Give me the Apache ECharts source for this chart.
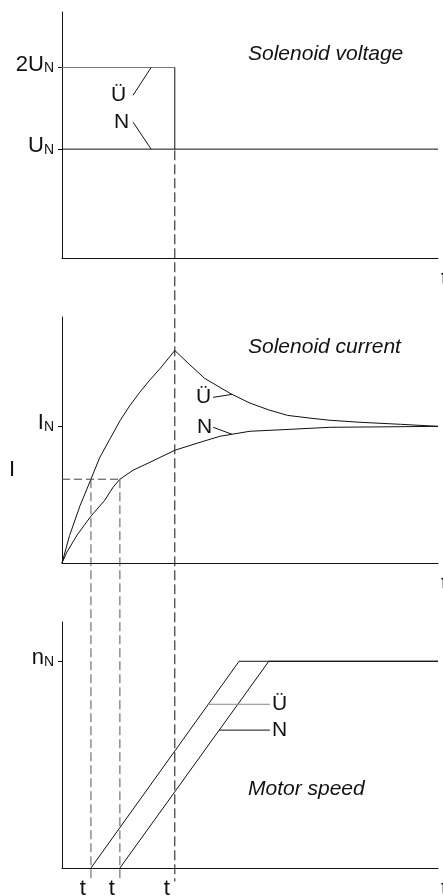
<!DOCTYPE html>
<html>
<head>
<meta charset="utf-8">
<title>Solenoid voltage, current and motor speed</title>
<script src="https://cdn.jsdelivr.net/npm/echarts@6.0.0/dist/echarts.min.js"></script>
<style>
  html, body { margin: 0; padding: 0; background: #fff; }
  #main { width: 443px; height: 896px; }
</style>
</head>
<body>
<div id="main"></div>
<script>
// time runs 0..100 (arbitrary units), switching instants t1, t2, t3
const tMarks = [7.7, 15.4, 30];
const tLabels = ['t', 't', 't'];

// solenoid voltage, U_N = 1
const voltOver = [[0, 1.75], [30, 1.75], [30, 1]];
const voltNominal = [[0, 1], [100, 1]];
const voltTicks = [1, 1.75];
const voltTickLabels = ['U', '2U'];

// solenoid current, I_N = 1
const curOver = [[0, 0], [2, 0.2], [4.8, 0.42], [7.7, 0.613], [10, 0.77], [12.8, 0.91], [15.4, 1.04],
  [18, 1.15], [20.7, 1.25], [23.4, 1.34], [26, 1.42], [30, 1.555], [34, 1.45], [38, 1.35], [42, 1.285],
  [45.2, 1.234], [50, 1.17], [55, 1.12], [60, 1.08], [66, 1.06], [71, 1.045], [79, 1.03], [90, 1.015], [100, 1]];
const curNominal = [[0, 0], [1.3, 0.08], [4, 0.204], [7.7, 0.343], [11.4, 0.46], [13.6, 0.555], [15.4, 0.613],
  [18.9, 0.679], [23.4, 0.737], [30, 0.825], [36.7, 0.883], [42, 0.927], [45.2, 0.942], [50, 0.964],
  [60.6, 0.978], [71.3, 0.993], [84.6, 0.996], [100, 1]];
const curLevel = 0.613;   // pick-up current I
const curTicks = [1];
const curTickLabels = ['I'];

// motor speed, n_N = 1
const speedOver = [[7.7, 0], [47.1, 1], [100, 1]];
const speedNominal = [[15.4, 0], [55, 1], [100, 1]];
const speedTicks = [1];
const speedTickLabels = ['n'];

// leader lines to the Ü / N notes
const voltLeadOver = [[23.7, 1.75], [18.9, 1.495]];
const voltLeadNom = [[18.9, 1.248], [23.7, 1]];
const curLeadOver = [[40.2, 1.212], [45.2, 1.234]];
const curLeadNom = [[40.2, 0.993], [45.2, 0.942]];
const speedLeadOver = [[38.8, 0.792], [55.3, 0.792]];
const speedLeadNom = [[41.8, 0.667], [55.3, 0.667]];

// dashed guides, in current units: t3 starts at U_N of the voltage plot,
// all of them run on below the speed axis down to the t labels
const guideTopT3 = 3.02;
const guideEnd = -2.33;

const FONT = 'Liberation Sans';
const INK = '#111';

let chart = echarts.init(document.getElementById('main'), null, {renderer: 'canvas'});

function xAxisFor(idx, showT) {
  return {
    gridIndex: idx, type: 'value', min: 0, max: 100,
    name: 't', nameLocation: 'end', nameGap: 3,
    nameTextStyle: {fontSize: 22, fontFamily: FONT, color: INK, verticalAlign: 'top', padding: [10, 0, 0, 0]},
    axisLine: {show: true, lineStyle: {color: INK, width: 1}},
    axisTick: {show: false},
    splitLine: {show: false},
    axisLabel: showT ? {
      customValues: tMarks, align: 'right', margin: 10, padding: [0, 5, 0, 0],
      fontSize: 22, fontFamily: FONT, color: INK,
      formatter: function (v) { return tLabels[tMarks.indexOf(v)]; }
    } : {show: false}
  };
}

function yAxisFor(idx, max, ticks, names) {
  return {
    gridIndex: idx, type: 'value', min: 0, max: max,
    axisLine: {show: true, lineStyle: {color: INK, width: 1}},
    splitLine: {show: false},
    axisTick: {show: true, customValues: ticks, length: 4, lineStyle: {color: INK}},
    axisLabel: {
      customValues: ticks, margin: 8, padding: [0, 0, 6, 0],
      formatter: function (v) { return '{m|' + names[ticks.indexOf(v)] + '}{s|N}'; },
      rich: {
        m: {fontSize: 22, fontFamily: FONT, color: INK},
        s: {fontSize: 14, fontFamily: FONT, color: INK, verticalAlign: 'bottom', padding: [7, 0, 0, 0]}
      }
    }
  };
}

function line(idx, data, color, dash) {
  return {
    type: 'line', xAxisIndex: idx, yAxisIndex: idx, data: data,
    symbol: 'none', silent: true, clip: false,
    lineStyle: {color: color || INK, width: 1, type: dash || 'solid'}
  };
}

// leader line with its note written at one end
function leader(idx, data, text, at, pos, dist, color) {
  return {
    type: 'line', xAxisIndex: idx, yAxisIndex: idx, data: data,
    symbol: 'circle', symbolSize: 0, showSymbol: true, silent: true,
    lineStyle: {color: color || INK, width: 1},
    label: {
      show: true, position: pos, distance: dist,
      fontSize: 21, fontFamily: FONT, color: INK,
      formatter: function (p) { return p.dataIndex === at ? text : ''; }
    }
  };
}

function titleAt(text, top) {
  return {
    text: text, left: 248, top: top, padding: 0,
    textStyle: {fontSize: 21, fontFamily: FONT, fontStyle: 'italic', fontWeight: 'normal', color: INK}
  };
}

function gridAt(top) {
  return {left: 62, right: 5, top: top, height: 246, outerBoundsMode: 'none', containLabel: false};
}

let option = {
  animation: false,
  backgroundColor: '#fff',
  title: [
    titleAt('Solenoid voltage', 44),
    titleAt('Solenoid current', 337),
    titleAt('Motor speed', 779)
  ],
  grid: [gridAt(12), gridAt(317), gridAt(622)],
  xAxis: [xAxisFor(0, false), xAxisFor(1, false), xAxisFor(2, true)],
  yAxis: [
    yAxisFor(0, 2.26, voltTicks, voltTickLabels),
    yAxisFor(1, 1.8, curTicks, curTickLabels),
    yAxisFor(2, 1.19, speedTicks, speedTickLabels)
  ],
  graphic: [
    {type: 'text', left: 9, top: 459, style: {text: 'I', fontSize: 22, fontFamily: FONT, fill: INK}}
  ],
  series: [
    // voltage
    line(0, voltOver.slice(0, 2), '#777'),
    line(0, voltOver.slice(1)),
    line(0, voltNominal),
    leader(0, voltLeadOver, 'Ü', 1, 'left', 7),
    leader(0, voltLeadNom, 'N', 0, 'left', 4),
    // current
    line(1, curOver),
    line(1, curNominal),
    leader(1, curLeadOver, 'Ü', 0, 'left', 2),
    leader(1, curLeadNom, 'N', 0, 'left', 1),
    line(1, [[0, curLevel], [tMarks[1], curLevel]], '#444', [8, 4]),
    line(1, [[tMarks[0], curLevel], [tMarks[0], guideEnd]], '#555', [9, 4]),
    line(1, [[tMarks[1], curLevel], [tMarks[1], guideEnd]], '#555', [9, 4]),
    line(1, [[tMarks[2], guideTopT3], [tMarks[2], guideEnd]], INK, [10, 4]),
    // speed
    line(2, speedOver),
    line(2, speedNominal),
    leader(2, speedLeadOver, 'Ü', 1, 'right', 2, '#888'),
    leader(2, speedLeadNom, 'N', 1, 'right', 2)
  ]
};
chart.setOption(option);
</script>
</body>
</html>
